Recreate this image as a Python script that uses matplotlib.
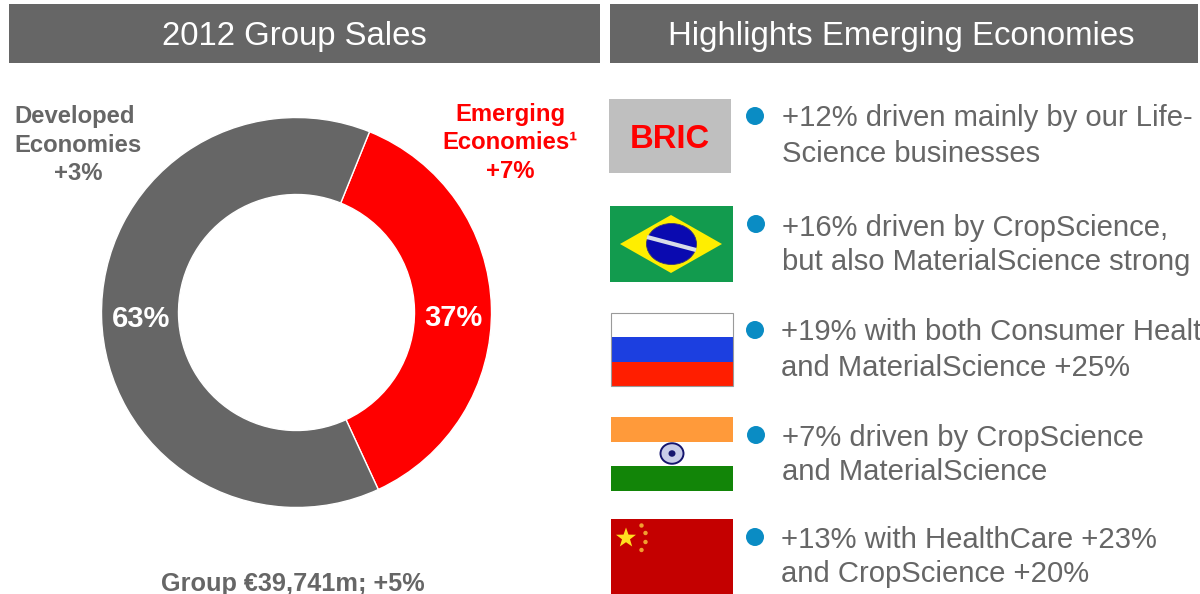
import numpy as np
import matplotlib
matplotlib.use("Agg")
import matplotlib.pyplot as plt
from matplotlib.patches import Rectangle, Circle, Polygon, Ellipse

plt.rcParams['font.family'] = ['Liberation Sans', 'DejaVu Sans']

share_labels = ['37%', '63%']
share_values = [37, 63]
share_colors = ['#FF0000', '#666666']
titles = ['2012 Group Sales', 'Highlights Emerging Economies']
bullets = [
    ['+12% driven mainly by our Life-', 'Science businesses'],
    ['+16% driven by CropScience,', 'but also MaterialScience strong'],
    ['+19% with both Consumer Health', 'and MaterialScience +25%'],
    ['+7% driven by CropScience', 'and MaterialScience'],
    ['+13% with HealthCare +23%', 'and CropScience +20%'],
]
W, H = 1200, 594
fig = plt.figure(figsize=(W/100, H/100), dpi=100, facecolor='white')

# pixel-space overlay
ov = fig.add_axes([0, 0, 1, 1], zorder=1)
ov.set_xlim(0, W); ov.set_ylim(H, 0); ov.axis('off')

GREY = '#666666'
def rect(x0, y0, x1, y1, c, **k):
    ov.add_patch(Rectangle((x0, y0), x1-x0, y1-y0, fc=c, ec=k.pop('ec', 'none'), lw=k.pop('lw', 0), **k))

# header bars
rect(9, 4, 600, 63, GREY)
rect(610, 4, 1198, 63, GREY)
ov.text(294, 37, titles[0], color='white', fontsize=23.7, ha='center', va='center')
ov.text(901, 37, titles[1], color='white', fontsize=23.7, ha='center', va='center')

# donut
cx, cy, R = 296.5, 312.5, 195
ax = fig.add_axes([(cx-R)/W, 1-(cy+R)/H, 2*R/W, 2*R/H], zorder=2)
ax.pie(share_values, colors=share_colors, startangle=68, counterclock=False, radius=1,
       wedgeprops=dict(width=1-118/195, edgecolor='white', linewidth=1.0))
ax.set_xlim(-1, 1); ax.set_ylim(-1, 1); ax.set_aspect('equal'); ax.axis('off')

tx = fig.add_axes([0, 0, 1, 1], zorder=3)
tx.set_xlim(0, W); tx.set_ylim(H, 0); tx.axis('off'); tx.patch.set_alpha(0)
tx.text(453.5, 318, share_labels[0], color='white', fontsize=21, fontweight='bold', ha='center', va='center')
tx.text(141, 319, share_labels[1], color='white', fontsize=21, fontweight='bold', ha='center', va='center')
for y, s in zip([117, 145, 174], ['Developed', 'Economies', '+3%']):
    tx.text(78 if s == '+3%' else 14, y, s, color=GREY, fontsize=17.2, fontweight='bold',
            ha='center' if s == '+3%' else 'left', va='center')
for y, s in zip([114.5, 142.5, 171.5], ['Emerging', 'Economies¹', '+7%']):
    tx.text(510.5, y, s, color='#FF0000', fontsize=17.2, fontweight='bold', ha='center', va='center')
tx.text(293, 584, 'Group €39,741m; +5%', color=GREY, fontsize=18.2, fontweight='bold', ha='center', va='center')

# BRIC tile
rect(609, 99, 731, 173, '#BFBFBF')
ov.text(670, 140, 'BRIC', color='#FF0000', fontsize=23.6, fontweight='bold', ha='center', va='center')

# Brazil
rect(610, 206, 733, 282, '#129B4E')
ov.add_patch(Polygon([(620, 244), (671, 215), (722, 244), (671, 273)], fc='#FFEE00', ec='none'))
ov.add_patch(Ellipse((671.5, 244), 50, 41, fc='#0A0AB0', ec='#3A3A70', lw=0.6))
ov.plot([647, 696], [237, 250], color='#D8DCE8', lw=3, solid_capstyle='butt')

# Russia
rect(611, 313, 733, 337, 'white')
rect(611, 337, 733, 362, '#1C3FE0')
rect(611, 362, 733, 386, '#FF1E00')
ov.add_patch(Rectangle((611, 313), 122, 73, fc='none', ec='#9A9A9A', lw=0.8))

# India
rect(611, 417, 733, 442, '#FF9A3A')
rect(611, 442, 733, 466, 'white')
rect(611, 466, 733, 491, '#128508')
ov.add_patch(Ellipse((672, 453.5), 23, 20.5, fc='#C8CCE8', ec='#15156E', lw=1.4))
ov.add_patch(Ellipse((672, 453.5), 7, 6.5, fc='#15156E', ec='none'))

# China
rect(611, 519, 733, 594, '#C40000')
star = [(626 + (10.5 if i % 2 == 0 else 4.2)*np.sin(i*np.pi/5),
         538 - (10.5 if i % 2 == 0 else 4.2)*np.cos(i*np.pi/5)) for i in range(10)]
ov.add_patch(Polygon(star, fc='#FFE020', ec='none'))
for x, y in [(641.5, 525.5), (645.5, 533), (645.5, 542), (641.5, 550)]:
    ov.add_patch(Circle((x, y), 2.2, fc='#F0A030', ec='none'))

# bullets
bullet_x = [755, 756, 755, 756, 755]
bullet_y = [116, 224, 330, 435, 537]
text_x = [782, 782, 781, 782, 781]
line1_y = [118.5, 227.5, 332.5, 437.5, 539.5]
for bx, by, t, y, lines in zip(bullet_x, bullet_y, text_x, line1_y, bullets):
    ov.add_patch(Circle((bx, by), 9, fc='#0A8CC4', ec='none'))
    ov.text(t, y, lines[0], color=GREY, fontsize=21.1, ha='left', va='center')
    ov.text(t, y+35, lines[1], color=GREY, fontsize=21.1, ha='left', va='center')

fig.savefig('out.png', dpi=100)
